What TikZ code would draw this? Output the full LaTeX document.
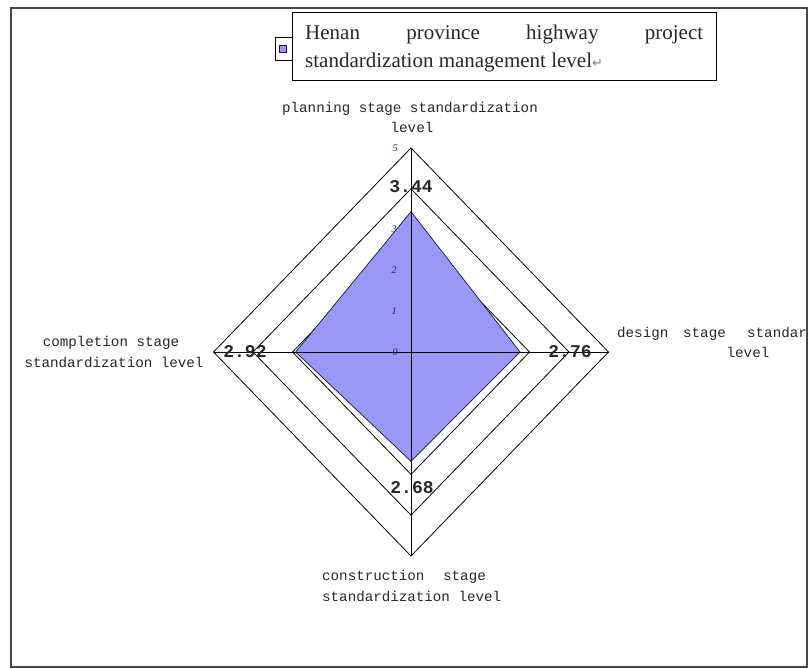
\documentclass[tikz,border=0pt]{standalone}
\usepackage{fontspec}
\setmainfont{Liberation Serif}
\newfontfamily\monof{Liberation Mono}
\newfontfamily\symf{DejaVu Sans}
\definecolor{radarfill}{RGB}{153,153,245}
\definecolor{radaredge}{RGB}{20,20,70}
\definecolor{framegray}{RGB}{70,70,70}
\definecolor{txtgray}{RGB}{40,40,40}
\definecolor{ticknavy}{RGB}{30,30,90}
\tikzset{
  ring/.style={draw=black, line width=0.8pt},
  axisline/.style={draw=black, line width=1pt},
  catlabel/.style={inner sep=0pt, font=\monof\fontsize{14.2}{17}\selectfont, text=txtgray},
  vallabel/.style={inner sep=0pt, font=\monof\bfseries\fontsize{18}{20}\selectfont, text=txtgray},
  ticklabel/.style={inner sep=0pt, font=\itshape\fontsize{10}{11}\selectfont, text=ticknavy},
  legendtext/.style={inner sep=0pt, font=\fontsize{21}{25}\selectfont, text=txtgray, anchor=base west}
}
\begin{document}
\begin{tikzpicture}[x=1pt,y=-1pt]
\useasboundingbox (0,0) rectangle (811,669);
\fill[white] (0,0) rectangle (811,669);
% center and scales
\def\cx{411}\def\cy{352}\def\sx{39.5}\def\sy{40.8}
\coordinate (C) at (\cx,\cy);
\foreach \r in {3,4,5}{
  \coordinate (T\r) at (\cx,{\cy-\r*\sy});
  \coordinate (R\r) at ({\cx+\r*\sx},\cy);
  \coordinate (B\r) at (\cx,{\cy+\r*\sy});
  \coordinate (L\r) at ({\cx-\r*\sx},\cy);
  \draw[ring] (T\r) -- (R\r) -- (B\r) -- (L\r) -- cycle;
}
% data polygon
\coordinate (vT) at (\cx,{\cy-3.44*\sy});
\coordinate (vR) at ({\cx+2.76*\sx},\cy);
\coordinate (vB) at (\cx,{\cy+2.68*\sy});
\coordinate (vL) at ({\cx-2.92*\sx},\cy);
\filldraw[fill=radarfill, draw=radaredge, line width=0.7pt] (vT) -- (vR) -- (vB) -- (vL) -- cycle;
% axes
\draw[axisline] (T5) -- (B5);
\draw[axisline] (L5) -- (R5);
% tick labels
\node[ticklabel] (t0) at (395,352) {0};
\node[ticklabel] (t1) at (394,{\cy-1*\sy}) {1};
\node[ticklabel] (t2) at (394,{\cy-2*\sy}) {2};
\node[ticklabel] (t3) at (394,{\cy-3*\sy}) {3};
\node[ticklabel] (t5) at (395,148) {5};
% value labels
\node[vallabel] (v1) at (411,187) {3.44};
\node[vallabel] (v2) at (570,352) {2.76};
\node[vallabel] (v3) at (412,488) {2.68};
\node[vallabel] (v4) at (245,352) {2.92};
% category labels
\node[catlabel, anchor=base] (top1) at (410,112) {planning stage standardization};
\node[catlabel, anchor=base] (top2) at (412,132) {level};
\node[catlabel, anchor=base] (left1) at (111,346) {completion stage};
\node[catlabel, anchor=base] (left2) at (114,367) {standardization level};
\node[catlabel, anchor=base west] (bot1a) at (322,580) {construction};
\node[catlabel, anchor=base west] (bot1b) at (443,580) {stage};
\node[catlabel, anchor=base west] (bot2) at (322,601) {standardization level};
\begin{scope}
\clip (11,8) rectangle (806,667);
\node[catlabel, anchor=base west] (right1a) at (617,337) {design};
\node[catlabel, anchor=base west] (right1b) at (683,337) {stage};
\node[catlabel, anchor=base west] (right1c) at (747,337) {standardization};
\node[catlabel, anchor=base] (right2) at (748,357) {level};
\end{scope}
% legend
\draw[fill=white, draw=black, line width=0.8pt] (275,37) rectangle (292,60);
\node[draw=radaredge, fill=radarfill, line width=0.8pt, minimum size=7pt, inner sep=0pt] (lkey) at (283,49) {};
\node[draw=black, fill=white, line width=1pt, minimum width=424pt, minimum height=68pt, inner sep=0pt, anchor=north west] (lbox) at (292,12) {};
\node[legendtext] (lt1) at (305,40) {\makebox[398pt][s]{Henan\hfill province\hfill highway\hfill project}};
\node[legendtext] (lt2) at (305,67) {standardization management level{\symf\fontsize{13}{14}\selectfont\textcolor{gray}{↵}}};
% frame
\draw[draw=framegray, line width=1.8pt] (11,8) rectangle (807,667);
\end{tikzpicture}
\end{document}
